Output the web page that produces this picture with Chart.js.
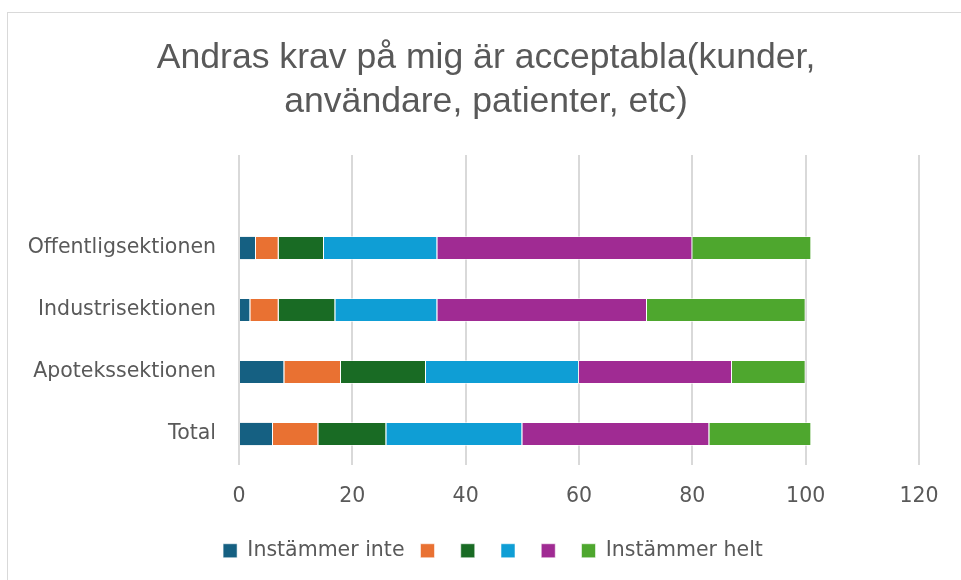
<!DOCTYPE html>
<html>
<head>
<meta charset="utf-8">
<script src="https://cdn.jsdelivr.net/npm/chart.js@4"></script>
<style>
html,body{margin:0;padding:0;background:#fff;}
#wrap{position:absolute;left:0;top:0;width:961px;height:580px;}
#frame{position:absolute;left:7px;top:12px;width:1000px;height:600px;border:1px solid #d9d9d9;box-sizing:border-box;}
canvas{position:absolute;left:0;top:0;}
</style>
</head>
<body>
<div id="wrap">
<div id="frame"></div>
<canvas id="c" width="961" height="580"></canvas>
</div>
<script>
const categories = ['', 'Offentligsektionen', 'Industrisektionen', 'Apotekssektionen', 'Total'];
const seriesNames = ['Instämmer inte', '', '', '', '', 'Instämmer helt'];
const s1 = [null, 3, 2, 8, 6];
const s2 = [null, 4, 5, 10, 8];
const s3 = [null, 8, 10, 15, 12];
const s4 = [null, 20, 18, 27, 24];
const s5 = [null, 45, 37, 27, 33];
const s6 = [null, 21, 28, 13, 18];
const colors = ['#156082', '#E97132', '#196B24', '#0F9ED5', '#A02B93', '#4EA72E'];
const titleLines = ['Andras krav på mig är acceptabla(kunder,', 'användare, patienter, etc)'];
const xMax = 120, xStep = 20;

const TITLE_FONT = '"Liberation Sans", Arial, sans-serif';
const FONT = '"DejaVu Sans", sans-serif';
const series = [s1, s2, s3, s4, s5, s6];
const datasets = series.map((d, i) => ({
  label: seriesNames[i],
  data: d,
  backgroundColor: colors[i],
  borderColor: 'rgba(255,255,255,0.55)',
  borderWidth: 1,
  barPercentage: 0.39,
  categoryPercentage: 1
}));

const titlePlugin = {
  id: 'customTitle',
  afterDraw(chart) {
    const ctx = chart.ctx;
    ctx.save();
    ctx.fillStyle = '#595959';
    ctx.font = '35.6px ' + TITLE_FONT;
    ctx.textAlign = 'center';
    ctx.textBaseline = 'middle';
    titleLines.forEach((t, i) => ctx.fillText(t, 486, 58 + i * 44));
    ctx.restore();
  }
};

new Chart(document.getElementById('c'), {
  type: 'bar',
  data: { labels: categories, datasets },
  plugins: [titlePlugin],
  options: {
    indexAxis: 'y',
    responsive: false,
    animation: false,
    layout: { padding: { left: 25, right: 0, top: 155, bottom: 9 } },
    scales: {
      x: {
        stacked: true, min: 0, max: xMax,
        ticks: { stepSize: xStep, color: '#595959', font: { family: FONT, size: 20.5 }, padding: 19 },
        grid: { color: '#d9d9d9', lineWidth: 2, drawTicks: false },
        border: { display: false },
        afterFit: s => { s.height = 59.5; }
      },
      y: {
        stacked: true,
        ticks: { color: '#595959', font: { family: FONT, size: 20.5 }, padding: 23 },
        grid: { display: false, drawTicks: false },
        border: { display: false },
        afterFit: s => { s.width = 214; }
      },
      yRight: {
        type: 'linear', axis: 'y', position: 'right', display: true,
        ticks: { display: false },
        grid: { display: false, drawTicks: false },
        border: { display: false },
        afterFit: s => { s.width = 42; }
      }
    },
    plugins: {
      title: { display: false },
      legend: {
        position: 'bottom',
        labels: {
          color: '#595959', font: { family: FONT, size: 20.5 },
          boxWidth: 14, boxHeight: 14, padding: 16
        }
      },
      tooltip: { enabled: false }
    }
  }
});
</script>
</body>
</html>
